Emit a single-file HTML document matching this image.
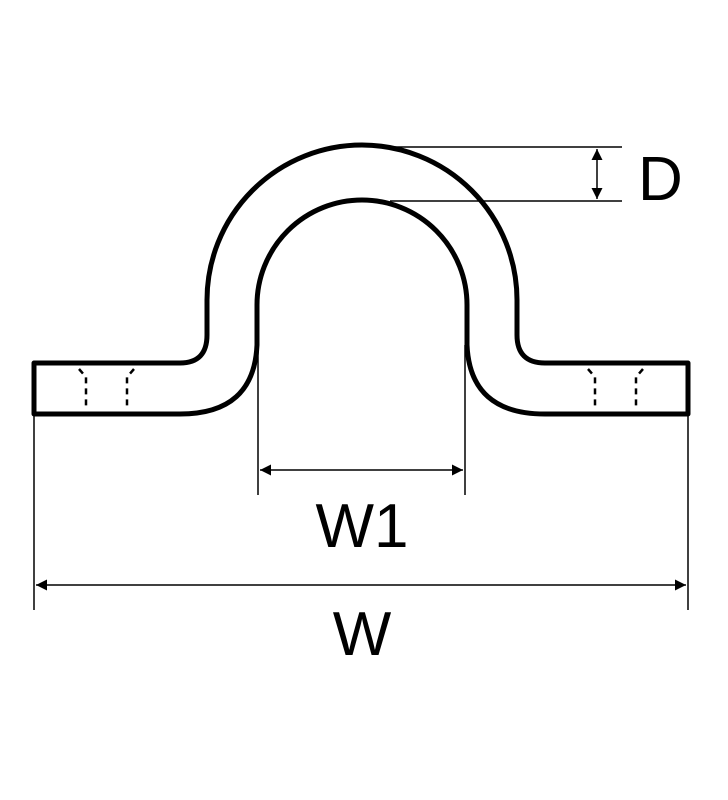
<!DOCTYPE html>
<html><head><style>html,body{margin:0;padding:0;background:#fff;}svg{display:block}text{font-family:"Liberation Sans",Arial,sans-serif;}</style></head>
<body>
<svg width="728" height="800" viewBox="0 0 728 800" xmlns="http://www.w3.org/2000/svg">
<defs>
<marker id="a" viewBox="0 0 10 10" refX="10" refY="5" markerWidth="16" markerHeight="11" markerUnits="userSpaceOnUse" orient="auto-start-reverse"><path d="M0,0 L10,5 L0,10 z" fill="#000"/></marker>
</defs>
<g fill="none" stroke="#000" stroke-width="5" stroke-linejoin="round">
<path d="M34,363 L180,363 Q207,363 207,335 L207,300 A155,155 0 0 1 517,300 L517,335 Q517,363 545,363 L688,363 L688,414 L545,414 Q470,414 467,345 L467,305 A105,105 0 0 0 257,305 L257,345 Q254,414 180,414 L34,414 Z"/>
</g>
<g stroke="#000" stroke-width="1.5" fill="none">
<line x1="390" y1="147" x2="622" y2="147"/>
<line x1="390" y1="201" x2="622" y2="201"/>
<line x1="597" y1="149" x2="597" y2="199" marker-start="url(#a)" marker-end="url(#a)"/>
<line x1="258" y1="345" x2="258" y2="495"/>
<line x1="465" y1="345" x2="465" y2="495"/>
<line x1="260" y1="470" x2="463" y2="470" marker-start="url(#a)" marker-end="url(#a)"/>
<line x1="34" y1="414" x2="34" y2="610"/>
<line x1="688" y1="414" x2="688" y2="610"/>
<line x1="36" y1="585" x2="686" y2="585" marker-start="url(#a)" marker-end="url(#a)"/>
</g>
<g stroke="#000" stroke-width="2.5" fill="none" stroke-dasharray="6,5">
<path d="M79,369 L86,377 L86,408"/>
<path d="M134,369 L127,377 L127,408"/>
<path d="M588,369 L595,377 L595,408"/>
<path d="M643,369 L636,377 L636,408"/>
</g>
<g font-size="62" fill="#000">
<text x="638" y="200">D</text>
<text x="362" y="547" text-anchor="middle">W1</text>
<text x="362" y="655" text-anchor="middle">W</text>
</g>
</svg>
</body></html>
